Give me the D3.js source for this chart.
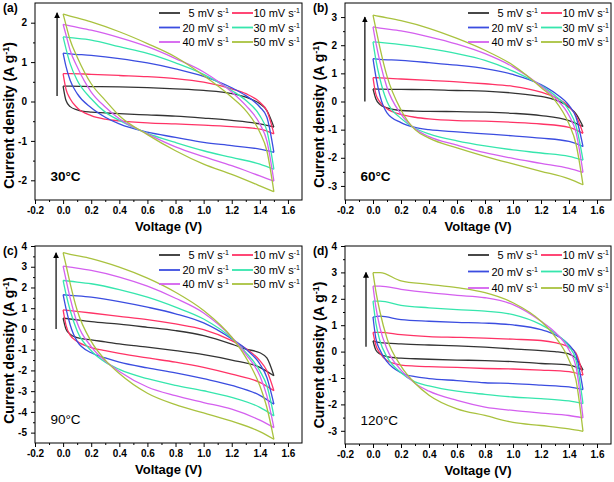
<!DOCTYPE html>
<html lang="en">
<head>
<meta charset="UTF-8">
<title>CV curves</title>
<script src="https://cdnjs.cloudflare.com/ajax/libs/d3/7.8.5/d3.min.js"></script>
<style>
body{margin:0;background:#fff;}
svg{display:block;font-family:Arial,"Liberation Sans",sans-serif;}
.tick text{font-weight:bold;font-size:10px;fill:#000;}
.tick line{stroke:#000;}
.curve{fill:none;stroke-width:1.3;}
</style>
</head>
<body>
<div id="chart"></div>
<script>
// scan rates and colours
var scanRates = ["5", "10", "20", "30", "40", "50"];
var rateColors = ["#333333", "#ff3366", "#3b4de0", "#36e6ad", "#d460ef", "#a9c23f"];

// voltage points for the upper (forward) and lower (reverse) branches
var vUpper = [0, 0.05, 0.2, 0.4, 0.6, 0.8, 1.0, 1.2, 1.3, 1.4, 1.45, 1.5];
var vLower = [0, 0.02, 0.05, 0.1, 0.2, 0.3, 0.4, 0.6, 0.8, 1.0, 1.2, 1.4, 1.5];

var xTicks = [-0.2, 0, 0.2, 0.4, 0.6, 0.8, 1.0, 1.2, 1.4, 1.6];
var yTicksA = [-2, -1, 0, 1, 2];
var yTicksB = [-3, -2, -1, 0, 1, 2, 3];
var yTicksC = [-5, -4, -3, -2, -1, 0, 1, 2, 3, 4];
var yTicksD = [-3, -2, -1, 0, 1, 2, 3, 4];

// (a) 30 C
var upperA = [
  [0.39, 0.39, 0.38, 0.37, 0.35, 0.32, 0.28, 0.2, 0.11, -0.06, -0.23, -0.65],
  [0.71, 0.71, 0.69, 0.66, 0.63, 0.58, 0.49, 0.32, 0.2, -0.02, -0.23, -0.82],
  [1.23, 1.21, 1.17, 1.09, 0.98, 0.83, 0.64, 0.35, 0.15, -0.14, -0.4, -1.29],
  [1.64, 1.62, 1.56, 1.39, 1.22, 0.98, 0.69, 0.28, 0.03, -0.36, -0.74, -1.72],
  [1.96, 1.92, 1.81, 1.62, 1.39, 1.09, 0.75, 0.24, -0.1, -0.57, -1.0, -2.02],
  [2.22, 2.17, 2.02, 1.77, 1.47, 1.13, 0.66, 0.11, -0.23, -0.78, -1.25, -2.29]
];
var lowerA = [
  [0.39, 0.03, -0.13, -0.21, -0.27, -0.29, -0.31, -0.34, -0.37, -0.42, -0.48, -0.57, -0.65],
  [0.71, 0.32, 0.07, -0.16, -0.36, -0.45, -0.49, -0.54, -0.57, -0.6, -0.64, -0.7, -0.82],
  [1.23, 0.9, 0.54, 0.2, -0.16, -0.4, -0.57, -0.78, -0.91, -1.04, -1.12, -1.21, -1.29],
  [1.64, 1.35, 0.96, 0.54, 0.07, -0.27, -0.48, -0.81, -1.04, -1.25, -1.42, -1.59, -1.72],
  [1.96, 1.7, 1.3, 0.88, 0.24, -0.14, -0.44, -0.82, -1.15, -1.4, -1.63, -1.89, -2.02],
  [2.22, 1.95, 1.56, 1.13, 0.45, 0.03, -0.36, -0.84, -1.25, -1.59, -1.85, -2.14, -2.29]
];

// (b) 60 C
var upperB = [
  [0.45, 0.44, 0.43, 0.42, 0.39, 0.37, 0.3, 0.18, 0.06, -0.2, -0.44, -0.89],
  [0.85, 0.84, 0.8, 0.75, 0.7, 0.63, 0.54, 0.33, 0.15, -0.18, -0.5, -1.13],
  [1.52, 1.5, 1.46, 1.38, 1.29, 1.17, 0.96, 0.6, 0.3, -0.14, -0.56, -1.6],
  [2.12, 2.1, 2.02, 1.88, 1.7, 1.46, 1.08, 0.57, 0.21, -0.32, -0.86, -2.08],
  [2.65, 2.61, 2.51, 2.3, 2.04, 1.7, 1.23, 0.55, 0.13, -0.5, -1.1, -2.52],
  [3.07, 3.02, 2.87, 2.6, 2.24, 1.82, 1.29, 0.5, 0.04, -0.8, -1.51, -2.96]
];
var lowerB = [
  [0.45, 0.1, -0.11, -0.23, -0.32, -0.34, -0.35, -0.36, -0.38, -0.42, -0.5, -0.68, -0.89],
  [0.85, 0.27, -0.02, -0.26, -0.46, -0.56, -0.62, -0.68, -0.7, -0.74, -0.8, -0.92, -1.13],
  [1.52, 0.9, 0.2, -0.4, -0.75, -0.92, -1.0, -1.08, -1.15, -1.22, -1.3, -1.42, -1.6],
  [2.12, 1.5, 0.8, 0.0, -0.6, -0.95, -1.15, -1.4, -1.58, -1.72, -1.83, -1.95, -2.08],
  [2.65, 2.1, 1.4, 0.5, -0.45, -0.97, -1.25, -1.55, -1.82, -2.02, -2.2, -2.38, -2.52],
  [3.07, 2.6, 1.9, 0.9, -0.3, -1.0, -1.3, -1.65, -1.95, -2.22, -2.48, -2.75, -2.96]
];

// (c) 90 C
var upperC = [
  [0.52, 0.48, 0.35, 0.23, 0.08, -0.08, -0.32, -0.73, -0.97, -1.15, -1.4, -2.26],
  [0.92, 0.88, 0.77, 0.61, 0.45, 0.24, -0.03, -0.56, -0.94, -1.53, -2.02, -2.98],
  [1.65, 1.62, 1.53, 1.32, 1.05, 0.73, 0.29, -0.48, -0.97, -1.69, -2.34, -3.63],
  [2.34, 2.3, 2.18, 1.9, 1.53, 1.05, 0.48, -0.45, -1.13, -2.02, -2.74, -4.19],
  [3.03, 2.98, 2.82, 2.5, 2.06, 1.48, 0.77, -0.4, -1.21, -2.26, -3.23, -4.76],
  [3.68, 3.6, 3.39, 2.98, 2.45, 1.77, 0.89, -0.4, -1.37, -2.74, -3.79, -5.32]
];
var lowerC = [
  [0.52, 0.0, -0.25, -0.42, -0.53, -0.62, -0.72, -0.88, -1.05, -1.24, -1.5, -1.85, -2.26],
  [0.92, 0.2, -0.3, -0.6, -0.9, -1.05, -1.18, -1.4, -1.6, -1.85, -2.18, -2.58, -2.98],
  [1.65, 1.0, 0.2, -0.6, -1.15, -1.4, -1.6, -1.88, -2.12, -2.4, -2.72, -3.2, -3.63],
  [2.34, 1.7, 0.9, -0.1, -1.05, -1.6, -1.95, -2.4, -2.72, -2.98, -3.3, -3.78, -4.19],
  [3.03, 2.4, 1.5, 0.3, -0.85, -1.55, -2.05, -2.8, -3.22, -3.55, -3.87, -4.4, -4.76],
  [3.68, 3.1, 2.2, 0.9, -0.6, -1.5, -2.15, -3.1, -3.65, -4.05, -4.45, -4.95, -5.32]
];

// (d) 120 C
var upperD = [
  [0.41, 0.34, 0.29, 0.25, 0.22, 0.17, 0.1, 0.04, 0.0, -0.09, -0.25, -0.7],
  [0.73, 0.73, 0.64, 0.57, 0.54, 0.51, 0.47, 0.42, 0.34, 0.17, -0.06, -0.89],
  [1.31, 1.34, 1.21, 1.15, 1.11, 1.08, 1.01, 0.83, 0.64, 0.25, -0.13, -1.44],
  [1.91, 1.91, 1.75, 1.66, 1.59, 1.53, 1.4, 1.02, 0.7, 0.19, -0.32, -1.97],
  [2.48, 2.48, 2.36, 2.23, 2.13, 2.04, 1.78, 1.15, 0.73, 0.06, -0.57, -2.51],
  [2.99, 2.99, 2.68, 2.55, 2.42, 2.23, 1.85, 1.15, 0.57, -0.32, -1.08, -3.02]
];
var lowerD = [
  [0.41, 0.06, -0.09, -0.19, -0.25, -0.27, -0.29, -0.32, -0.34, -0.38, -0.45, -0.51, -0.7],
  [0.73, 0.25, -0.06, -0.34, -0.51, -0.55, -0.57, -0.6, -0.64, -0.66, -0.7, -0.76, -0.89],
  [1.31, 0.51, 0.06, -0.38, -0.8, -0.95, -1.02, -1.1, -1.18, -1.21, -1.27, -1.34, -1.44],
  [1.91, 1.1, 0.4, -0.2, -0.8, -1.15, -1.3, -1.5, -1.62, -1.72, -1.78, -1.87, -1.97],
  [2.48, 1.7, 0.9, 0.1, -0.7, -1.2, -1.5, -1.85, -2.1, -2.23, -2.33, -2.42, -2.51],
  [2.99, 2.3, 1.5, 0.5, -0.55, -1.2, -1.65, -2.17, -2.42, -2.68, -2.8, -2.93, -3.02]
];

var panels = [
  {tag: "(a)", temp: "30°C", bold: true, left: 35, right: 302, top: 3, bottom: 200,
   yDomain: [-2.5, 2.5], yTicks: yTicksA, upper: upperA, lower: lowerA,
   rows: [10, 24.5, 39], arrow: [-0.043, 0.14, 2.25], titleShift: 14},
  {tag: "(b)", temp: "60°C", bold: true, left: 345, right: 611, top: 3, bottom: 200,
   yDomain: [-3.5, 3.5], yTicks: yTicksB, upper: upperB, lower: lowerB,
   rows: [10, 24.5, 39], arrow: [-0.058, 0.0, 3.0], titleShift: 13},
  {tag: "(c)", temp: "90°C", bold: false, left: 35, right: 302, top: 246, bottom: 443,
   yDomain: [-5.5, 4], yTicks: yTicksC, upper: upperC, lower: lowerC,
   rows: [9, 24, 38], arrow: [-0.05, 0.0, 3.67], titleShift: 6},
  {tag: "(d)", temp: "120°C", bold: false, left: 345, right: 611, top: 246, bottom: 444,
   yDomain: [-3.5, 4], yTicks: yTicksD, upper: upperD, lower: lowerD,
   rows: [9, 25.5, 42], arrow: [-0.05, 0.18, 3.0], titleShift: 10}
];

var svg = d3.select("#chart").append("svg")
  .attr("width", 614)
  .attr("height", 482);

svg.append("defs").append("marker")
  .attr("id", "head")
  .attr("viewBox", "0 0 10 10")
  .attr("refX", 9).attr("refY", 5)
  .attr("markerWidth", 5).attr("markerHeight", 6)
  .attr("orient", "auto")
  .append("path")
  .attr("d", "M0,0 L10,5 L0,10 z")
  .attr("fill", "#000");

panels.forEach(function (p) {
  var x = d3.scaleLinear().domain([-0.2, 1.7]).range([p.left, p.right]);
  var y = d3.scaleLinear().domain(p.yDomain).range([p.bottom, p.top]);
  var g = svg.append("g");

  // minor ticks first, majors over them
  var xMinor = d3.range(-0.1, 1.65, 0.2);
  var yMinor = p.yTicks.slice(0, -1).map(function (d) { return d + 0.5; });

  g.append("g")
    .attr("transform", "translate(0," + p.bottom + ")")
    .call(d3.axisBottom(x).tickValues(xMinor).tickSize(2).tickFormat(""))
    .call(function (a) { a.select(".domain").remove(); });
  g.append("g")
    .attr("transform", "translate(0," + p.bottom + ")")
    .call(d3.axisBottom(x).tickValues(xTicks).tickSize(4).tickPadding(3)
      .tickFormat(function (d) { return d.toFixed(1); }))
    .call(function (a) { a.select(".domain").remove(); });

  g.append("g")
    .attr("transform", "translate(" + p.left + ",0)")
    .call(d3.axisLeft(y).tickValues(yMinor).tickSize(2).tickFormat(""))
    .call(function (a) { a.select(".domain").remove(); });
  g.append("g")
    .attr("transform", "translate(" + p.left + ",0)")
    .call(d3.axisLeft(y).tickValues(p.yTicks).tickSize(4).tickPadding(4)
      .tickFormat(function (d) { return String(d); }))
    .call(function (a) { a.select(".domain").remove(); });

  // curves
  var line = d3.line()
    .x(function (d) { return x(d[0]); })
    .y(function (d) { return y(d[1]); })
    .curve(d3.curveMonotoneX);

  scanRates.forEach(function (r, i) {
    var up = vUpper.map(function (v, k) { return [v, p.upper[i][k]]; });
    var lo = vLower.map(function (v, k) { return [v, p.lower[i][k]]; });
    g.append("path").attr("class", "curve").attr("stroke", rateColors[i]).attr("d", line(up));
    g.append("path").attr("class", "curve").attr("stroke", rateColors[i]).attr("d", line(lo));
  });

  // frame
  g.append("rect")
    .attr("x", p.left).attr("y", p.top)
    .attr("width", p.right - p.left).attr("height", p.bottom - p.top)
    .attr("fill", "none").attr("stroke", "#000").attr("stroke-width", 1);

  // arrow
  g.append("line")
    .attr("x1", x(p.arrow[0])).attr("x2", x(p.arrow[0]))
    .attr("y1", y(p.arrow[1])).attr("y2", y(p.arrow[2]))
    .attr("stroke", "#000").attr("stroke-width", 1.2)
    .attr("marker-end", "url(#head)");

  // legend
  var leg = g.append("g");
  scanRates.forEach(function (r, i) {
    var col = i % 2, row = Math.floor(i / 2);
    var ly = p.top + p.rows[row];
    var x1 = col === 0 ? p.right - 143 : p.right - 70;
    leg.append("line")
      .attr("x1", x1).attr("x2", x1 + 21)
      .attr("y1", ly).attr("y2", ly)
      .attr("stroke", rateColors[i]).attr("stroke-width", 1.8);
    var t = leg.append("text")
      .attr("x", col === 0 ? p.right - 73 : p.right - 2)
      .attr("y", ly + 4)
      .attr("text-anchor", "end")
      .attr("font-size", 11);
    t.append("tspan").text(r + " mV s");
    t.append("tspan").attr("dy", -4).attr("font-size", 7).text("-1");
  });

  // panel tag and temperature
  g.append("text")
    .attr("x", p.left - 32).attr("y", p.top + 9)
    .attr("font-size", 12).attr("font-weight", "bold")
    .text(p.tag);
  g.append("text")
    .attr("x", x(-0.09)).attr("y", p.bottom - 19)
    .attr("font-size", 13.5).attr("font-weight", p.bold ? "bold" : "normal")
    .text(p.temp);

  // axis titles
  g.append("text")
    .attr("x", (p.left + p.right) / 2).attr("y", p.bottom + 31)
    .attr("text-anchor", "middle")
    .attr("font-size", 13).attr("font-weight", "bold")
    .text("Voltage (V)");
  var yt = g.append("text")
    .attr("transform", "translate(" + (p.left - 21) + "," + ((p.top + p.bottom) / 2 + p.titleShift) + ") rotate(-90)")
    .attr("text-anchor", "middle")
    .attr("font-size", 14).attr("font-weight", "bold");
  yt.append("tspan").text("Current density (A g");
  yt.append("tspan").attr("dy", -5).attr("font-size", 9).text("-1");
  yt.append("tspan").attr("dy", 5).text(")");
});
</script>
</body>
</html>
